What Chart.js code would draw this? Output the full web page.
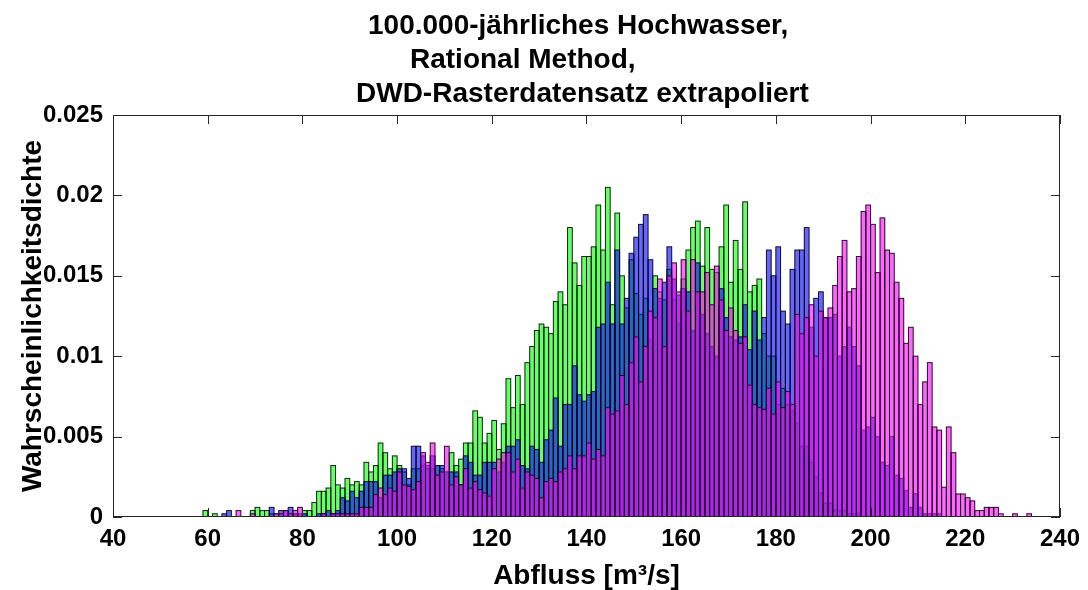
<!DOCTYPE html>
<html>
<head>
<meta charset="utf-8">
<script src="https://cdn.jsdelivr.net/npm/chart.js@4"></script>
<style>
  html, body { margin: 0; padding: 0; background: #fff; }
  #wrap { width: 1088px; height: 590px; }
</style>
</head>
<body>
<div id="wrap"><canvas id="hist" width="1088" height="590"></canvas></div>
<script>
'use strict';

// ── Klassen: Breite 1 m³/s, erste Klasse [59, 60) ─────────
const binStart = 59;
const binWidth = 1;

// Dichtewerte in 1e-3 (je Klasse, 59 … 233)
const greenDensity = [
    0.4, 0, 0.2, 0, 0, 0, 0, 0, 0, 0,
    0.4, 0.6, 0.4, 0.4, 0.2, 0.2, 0, 0, 0, 0.2,
    0, 0.4, 0.4, 0.9, 1.6, 1.6, 1.8, 3.2, 2.0, 1.8,
    2.4, 2.0, 2.2, 2.0, 3.4, 2.8, 3.2, 4.6, 4.0, 3.0,
    3.8, 3.2, 2.8, 2.0, 3.0, 3.0, 3.2, 3.0, 3.0, 3.2,
    3.0, 2.8, 4.0, 3.2, 3.6, 4.6, 4.6, 6.6, 6.2, 4.6,
    5.2, 6.0, 4.2, 5.8, 8.6, 6.8, 8.8, 7.0, 9.6, 10.6,
    11.6, 12.0, 11.8, 11.4, 13.4, 14.0, 13.2, 18.0, 15.8, 14.4,
    16.2, 16.2, 16.8, 19.4, 16.6, 20.5, 13.2, 18.9, 15.0, 13.0,
    16.0, 13.9, 12.6, 13.6, 11.0, 15.0, 14.0, 13.5, 15.4, 13.5,
    12.0, 14.8, 16.6, 18.0, 18.4, 15.6, 18.0, 15.4, 15.2, 16.8,
    19.4, 14.6, 17.2, 15.4, 19.6, 14.0, 14.4, 14.8, 11.4, 10.0,
    10.0, 7.0, 8.0, 7.0, 6.6, 5.8, 4.4, 4.4, 3.4, 2.5,
    1.5, 0.85, 0.85, 0.44, 0.4, 0.4, 0.2, 0.2, 0.2, 0,
    0, 0, 0, 0, 0, 0, 0, 0, 0, 0,
    0, 0, 0, 0, 0, 0, 0, 0, 0, 0,
    0, 0, 0, 0, 0, 0, 0, 0, 0, 0,
    0, 0, 0, 0, 0
];

const blueDensity = [
    0, 0, 0, 0, 0.2, 0.4, 0, 0, 0, 0,
    0, 0, 0, 0, 0.6, 0, 0.4, 0.4, 0.6, 0.2,
    0.2, 0.2, 0, 0, 0.2, 0.2, 0.4, 0.2, 0.4, 1.2,
    1.0, 1.6, 1.2, 1.6, 2.2, 2.2, 2.2, 1.2, 2.6, 2.6,
    2.8, 3.0, 3.0, 2.4, 4.4, 4.4, 3.8, 3.2, 3.8, 3.2,
    3.2, 2.8, 2.8, 2.8, 2.0, 3.8, 3.4, 2.6, 2.6, 3.4,
    3.4, 3.4, 2.8, 3.4, 4.4, 4.4, 4.8, 3.2, 3.0, 4.4,
    4.2, 3.4, 4.8, 5.4, 7.4, 4.4, 7.0, 7.0, 9.4, 7.6,
    7.2, 7.6, 7.8, 11.8, 12.0, 14.6, 12.0, 16.6, 12.0, 13.6,
    16.4, 17.4, 18.2, 18.8, 16.0, 14.2, 13.6, 14.6, 16.8, 14.8,
    13.8, 14.2, 14.0, 11.6, 15.8, 12.6, 11.4, 10.6, 10.0, 14.2,
    12.4, 11.2, 11.0, 11.2, 13.2, 10.4, 12.8, 11.0, 12.4, 16.6,
    15.0, 16.8, 12.8, 12.0, 15.4, 16.6, 16.6, 18.0, 11.8, 13.6,
    14.0, 12.4, 12.4, 12.6, 10.0, 10.6, 11.8, 10.6, 9.4, 5.4,
    5.6, 6.2, 5.0, 3.4, 3.2, 5.0, 2.6, 2.4, 1.65, 0.6,
    1.45, 0.6, 0.2, 0.2, 0.2, 0.2, 0, 0, 0, 0,
    0, 0, 0, 0, 0, 0, 0, 0, 0, 0,
    0, 0, 0, 0, 0
];

const magentaDensity = [
    0, 0, 0, 0, 0, 0, 0, 0.4, 0, 0,
    0.2, 0, 0, 0, 0, 0.2, 0.2, 0.4, 0.2, 0.4,
    0.6, 0, 0, 0, 0, 0.2, 0, 0.2, 0.2, 0.2,
    0.2, 0.2, 0.2, 0.6, 0.6, 0.6, 1.4, 1.8, 1.4, 1.8,
    1.6, 2.8, 2.0, 1.9, 1.7, 2.2, 4.0, 3.4, 4.6, 2.6,
    2.8, 4.4, 2.0, 2.5, 2.0, 3.0, 1.8, 2.2, 1.7, 1.5,
    1.3, 3.0, 3.6, 4.0, 4.0, 2.8, 3.6, 1.8, 2.8, 2.6,
    2.4, 1.2, 2.2, 2.4, 2.2, 2.8, 3.0, 3.8, 3.0, 3.8,
    3.8, 4.6, 3.6, 4.2, 3.8, 6.8, 6.4, 6.6, 8.8, 7.0,
    9.6, 11.2, 8.4, 10.6, 12.8, 12.4, 14.8, 10.6, 15.0, 15.8,
    14.0, 16.0, 12.8, 16.0, 14.0, 14.0, 15.2, 13.2, 15.6, 13.5,
    11.6, 13.0, 11.6, 10.8, 11.2, 8.2, 7.0, 6.8, 6.7, 8.0,
    6.4, 8.4, 6.8, 7.8, 7.0, 12.6, 11.4, 12.4, 13.2, 10.0,
    12.8, 12.4, 13.0, 14.4, 16.2, 17.2, 14.0, 14.2, 16.2, 19.0,
    19.4, 18.2, 15.2, 18.6, 16.6, 16.4, 14.6, 13.6, 10.8, 11.8,
    10.0, 7.0, 8.4, 9.6, 5.6, 5.4, 1.85, 5.6, 4.0, 1.43,
    1.43, 1.2, 1.0, 0.4, 0.4, 0.6, 0.6, 0.6, 0.2, 0,
    0, 0.2, 0, 0, 0.2
];

const xTicks = [40, 60, 80, 100, 120, 140, 160, 180, 200, 220, 240];
const yTicks = [0, 0.005, 0.01, 0.015, 0.02, 0.025];

const titleLines = [
    '100.000-jährliches Hochwasser,',
    'Rational Method,',
    'DWD-Rasterdatensatz extrapoliert'
];
const xLabel = 'Abfluss [m³/s]';
const yLabel = 'Wahrscheinlichkeitsdichte';

const FONT = '"Liberation Sans", Arial, Helvetica, sans-serif';

// Klassenmitte + Dichte, leere Klassen weglassen
function toBars(values) {
    const pts = [];
    values.forEach((v, i) => {
        if (v > 0) pts.push({ x: binStart + i * binWidth + binWidth / 2, y: v * 1e-3 });
    });
    return pts;
}

// ── Balkenumrisse nach jedem Datensatz (wie Histogramm-Kanten) ──
const edgePlugin = {
    id: 'edges',
    afterDatasetDraw(chart, args) {
        const { ctx, chartArea } = chart;
        ctx.save();
        ctx.beginPath();
        ctx.rect(chartArea.left, chartArea.top, chartArea.right - chartArea.left, chartArea.bottom - chartArea.top);
        ctx.clip();
        ctx.strokeStyle = 'rgba(0,0,0,0.85)';
        ctx.lineWidth = 1;
        args.meta.data.forEach(el => {
            const { x, y, base, width } = el.getProps(['x', 'y', 'base', 'width'], true);
            if (!isFinite(y)) return;
            ctx.strokeRect(x - width / 2, y, width, base - y);
        });
        ctx.restore();
    }
};

// ── Achsenrahmen, Ticks nach innen, Titel und Achsenbeschriftungen ──
const framePlugin = {
    id: 'frame',
    afterDraw(chart) {
        const { ctx, chartArea: a, scales: { x, y } } = chart;
        const tl = 9;
        ctx.save();
        ctx.strokeStyle = '#262626';
        ctx.lineWidth = 1;
        ctx.strokeRect(a.left + 0.5, a.top + 0.5, a.right - a.left - 1, a.bottom - a.top - 1);
        ctx.beginPath();
        xTicks.forEach(t => {
            const px = Math.round(x.getPixelForValue(t)) + 0.5;
            ctx.moveTo(px, a.bottom); ctx.lineTo(px, a.bottom - tl);
            ctx.moveTo(px, a.top); ctx.lineTo(px, a.top + tl);
        });
        yTicks.forEach(t => {
            const py = Math.round(y.getPixelForValue(t)) + 0.5;
            ctx.moveTo(a.left, py); ctx.lineTo(a.left + tl, py);
            ctx.moveTo(a.right, py); ctx.lineTo(a.right - tl, py);
        });
        ctx.stroke();

        ctx.fillStyle = '#000';
        ctx.textBaseline = 'alphabetic';
        ctx.textAlign = 'left';
        ctx.font = 'bold 28px ' + FONT;
        ctx.fillText(titleLines[0], 368, 34);
        ctx.fillText(titleLines[1], 410, 68);
        ctx.fillText(titleLines[2], 356, 102);

        ctx.textAlign = 'center';
        ctx.fillText(xLabel, (a.left + a.right) / 2, 584);

        ctx.translate(41, (a.top + a.bottom) / 2);
        ctx.rotate(-Math.PI / 2);
        ctx.fillText(yLabel, 0, 0);
        ctx.restore();
    }
};

const tickFont = { family: FONT, size: 24, weight: 'bold' };

new Chart(document.getElementById('hist'), {
    type: 'bar',
    data: {
        datasets: [
            { label: 'grün', data: toBars(greenDensity), backgroundColor: 'rgba(0,255,0,0.6)', order: 3 },
            { label: 'blau', data: toBars(blueDensity), backgroundColor: 'rgba(0,0,255,0.6)', order: 2 },
            { label: 'magenta', data: toBars(magentaDensity), backgroundColor: 'rgba(255,0,255,0.6)', order: 1 }
        ]
    },
    options: {
        responsive: false,
        animation: false,
        devicePixelRatio: 1,
        layout: { padding: { top: 115, right: 26, bottom: 0, left: 0 } },
        datasets: {
            bar: {
                grouped: false,
                barPercentage: 1,
                categoryPercentage: 1,
                borderWidth: 0
            }
        },
        plugins: {
            legend: { display: false },
            tooltip: { enabled: false },
            title: { display: false }
        },
        scales: {
            x: {
                type: 'linear',
                min: 40,
                max: 240,
                offset: false,
                grid: { display: false, drawTicks: false },
                border: { display: false },
                afterFit: s => { s.height = 73; },
                afterBuildTicks: s => { s.ticks = xTicks.map(v => ({ value: v })); },
                ticks: { font: tickFont, color: '#000', padding: 8, maxRotation: 0, autoSkip: false }
            },
            y: {
                min: 0,
                max: 0.025,
                grid: { display: false, drawTicks: false },
                border: { display: false },
                afterFit: s => { s.width = 113; },
                afterBuildTicks: s => { s.ticks = yTicks.map(v => ({ value: v })); },
                ticks: {
                    font: tickFont,
                    color: '#000',
                    padding: 10,
                    callback: v => String(+v.toFixed(3))
                }
            }
        }
    },
    plugins: [edgePlugin, framePlugin]
});
</script>
</body>
</html>
